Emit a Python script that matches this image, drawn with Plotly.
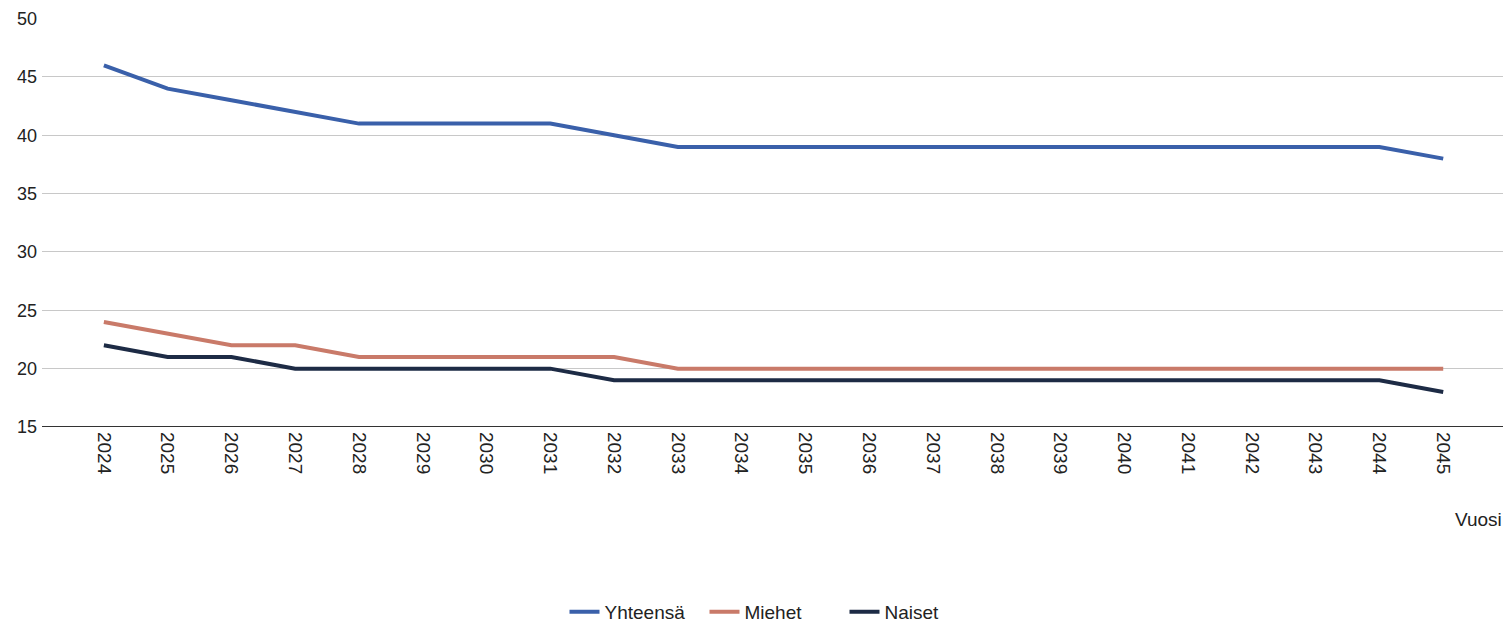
import plotly.graph_objects as go

years = list(range(2024, 2046))
yhteensa = [46, 44, 43, 42, 41, 41, 41, 41, 40, 39, 39, 39, 39, 39, 39, 39, 39, 39, 39, 39, 39, 38]
miehet = [24, 23, 22, 22, 21, 21, 21, 21, 21, 20, 20, 20, 20, 20, 20, 20, 20, 20, 20, 20, 20, 20]
naiset = [22, 21, 21, 20, 20, 20, 20, 20, 19, 19, 19, 19, 19, 19, 19, 19, 19, 19, 19, 19, 19, 18]

series = [("Yhteensä", yhteensa, "#3a60aa"), ("Miehet", miehet, "#c97a69"), ("Naiset", naiset, "#1d2b45")]

fig = go.Figure()
for name, vals, col in series:
    fig.add_trace(go.Scatter(x=years, y=vals, name=name, mode="lines",
                             line=dict(color=col, width=4)))

fig.update_layout(
    width=1503, height=615,
    margin=dict(l=34, r=4, t=10, b=196, autoexpand=False),
    plot_bgcolor="white", paper_bgcolor="white",
    font=dict(family="Arial, Liberation Sans, sans-serif", color="#222", size=18),
    showlegend=True,
    legend=dict(orientation="h", x=0.5, xanchor="center", y=-0.452, yanchor="middle",
                font=dict(size=19), entrywidth=95, entrywidthmode="pixels"),
    xaxis=dict(range=[2023.03, 2046.0], tickmode="array", tickvals=years,
               ticktext=[str(y) for y in years], tickangle=90, showgrid=False,
               showline=False, zeroline=False, ticks="", automargin=False,
               tickfont=dict(size=19), ticklabelstandoff=4),
    yaxis=dict(range=[15, 50.05], tickvals=[15, 20, 25, 30, 35, 40, 45, 50],
               showgrid=True, gridcolor="#c8c8c8", gridwidth=1, automargin=False,
               zeroline=False, showline=False, ticks="", tickfont=dict(size=18),
               ticklabelstandoff=4),
    shapes=[dict(type="line", xref="paper", yref="y", x0=0, x1=1, y0=15, y1=15,
                 line=dict(color="#333", width=2))],
    annotations=[dict(text="Vuosi", xref="paper", yref="paper", x=0.998, y=-0.227,
                      xanchor="right", yanchor="middle", showarrow=False,
                      font=dict(size=19))],
)

fig.write_html("out.html")
